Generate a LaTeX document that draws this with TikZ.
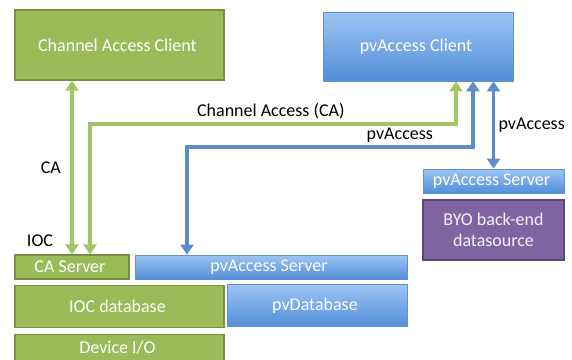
\documentclass[tikz,border=0pt]{standalone}
\usepackage{fontspec}
\setmainfont{Carlito}
\usetikzlibrary{arrows.meta,positioning}
\definecolor{cagreen}{RGB}{155,187,89}
\definecolor{caedge}{RGB}{118,143,66}
\definecolor{caline}{RGB}{163,196,102}
\definecolor{pvtop}{RGB}{156,196,242}
\definecolor{pvbot}{RGB}{82,142,218}
\definecolor{pvedge}{RGB}{96,146,206}
\definecolor{pvline}{RGB}{92,140,202}
\definecolor{byofill}{RGB}{128,100,162}
\definecolor{byoedge}{RGB}{94,72,122}
\tikzstyle{cabox} = [rectangle, draw=caedge, fill=cagreen, line width=1.2pt, text=white, align=center]
\tikzstyle{pvbox} = [rectangle, draw=pvedge, top color=pvtop, bottom color=pvbot, line width=0.8pt, text=white, align=center]
\tikzstyle{byobox} = [rectangle, draw=byoedge, fill=byofill, line width=1.2pt, text=white!92!byofill, align=center]
\tikzstyle{calink} = [draw=caline, line width=3.5pt, {Triangle[width=13pt,length=10pt]}-{Triangle[width=13pt,length=10pt]}]
\tikzstyle{pvlink} = [draw=pvline, line width=3.5pt, {Triangle[width=13pt,length=10pt]}-{Triangle[width=13pt,length=10pt]}]
\begin{document}
\begin{tikzpicture}[x=1pt, y=-1pt, node distance=5pt, font=\fontsize{18}{21}\selectfont]
      \useasboundingbox (0,0) rectangle (572,359);
      \node[cabox, minimum width=209pt, minimum height=70pt] (CAC) at (119.5,45) { Channel Access Client };
      \node[pvbox, minimum width=190pt, minimum height=69pt] (PVC) at (418,46.5) { pvAccess Client };
      \node[cabox, minimum width=114pt, minimum height=24pt, inner sep=0pt] (CAS) at (72,267) { CA Server };
      \node[pvbox, minimum width=272pt, minimum height=24pt, inner sep=0pt] (PVS) at (271,267) { pvAccess Server };
      \node[cabox, minimum width=209pt, minimum height=42pt, below=5pt of CAS.south west, anchor=north west] (IOCDB) { IOC database };
      \node[pvbox, minimum width=180pt, minimum height=42pt, below=5pt of PVS.south east, anchor=north east] (PVDB) { pvDatabase };
      \node[cabox, minimum width=209pt, minimum height=26pt, inner sep=0pt, below=6pt of IOCDB] (DIO) { Device I/O };
      \node[pvbox, minimum width=141pt, minimum height=24pt, inner sep=0pt] (PVS2) at (493.5,181) { pvAccess Server };
      \node[byobox, minimum width=141pt, minimum height=60pt, below=6pt of PVS2] (BYO) { BYO back-end\\datasource };
      \node (IOC) at (40,241) { IOC };
      \coordinate (CAbus) at (0,124);
      \coordinate (PVbus) at (0,147);
      \draw[calink] (CAC.south -| CAS.north) -- node[left=6pt] { CA } (CAS.north);
      \draw[calink] ([xshift=18pt]CAS.north) -- ([xshift=18pt]CAS.north |- CAbus) -| node[pos=0.247, above] { Channel Access (CA) } ([xshift=38pt]PVC.south);
      \draw[pvlink] ([xshift=-84pt]PVS.north) -- ([xshift=-84pt]PVS.north |- PVbus) -| node[pos=0.372, above] { pvAccess } ([xshift=55pt]PVC.south);
      \draw[pvlink] (PVC.south -| PVS2.north) -- node[right] { pvAccess } (PVS2.north);
    \end{tikzpicture}
\end{document}
